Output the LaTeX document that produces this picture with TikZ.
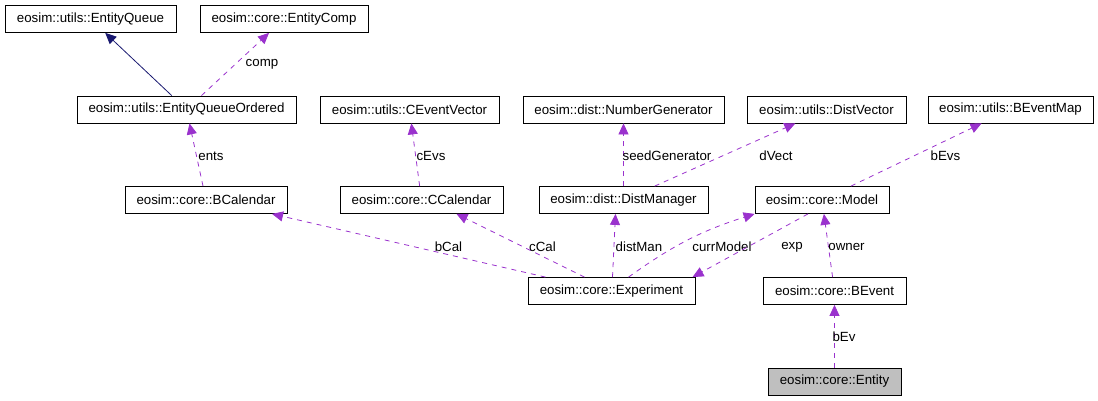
\documentclass[tikz,border=0pt]{standalone}
\usepackage{fontspec}
\setmainfont{Liberation Sans}
\usetikzlibrary{arrows.meta}
\definecolor{edgepurple}{RGB}{154,50,205}
\definecolor{inhblue}{RGB}{25,25,112}
\newcommand{\dxfont}{\fontsize{13.3}{16}\selectfont}

\begin{document}
\begin{tikzpicture}[x=1pt, y=-1pt, line width=0.8pt,
  cls/.style={draw, minimum height=27pt, inner sep=0pt, font=\dxfont},
  dep/.style={edgepurple, dash pattern=on 5pt off 5pt, -{Triangle[length=11pt,width=10pt]}},
  inh/.style={inhblue, -{Triangle[length=11pt,width=10pt]}},
  lbl/.style={font=\dxfont, inner sep=0pt, text=black}]
  \useasboundingbox (0,0) rectangle (1098,400);
  \node[cls, minimum width=171pt] (equeue) at (90.5,19) {eosim::utils::EntityQueue};
  \node[cls, minimum width=168pt] (ecomp) at (284,19) {eosim::core::EntityComp};
  \node[cls, minimum width=219pt] (eqord) at (186.5,109.5) {eosim::utils::EntityQueueOrdered};
  \node[cls, minimum width=179pt] (cevvec) at (409.5,109.5) {eosim::utils::CEventVector};
  \node[cls, minimum width=201pt] (numgen) at (623.5,109.5) {eosim::dist::NumberGenerator};
  \node[cls, minimum width=159pt] (dvec) at (826.5,109.5) {eosim::utils::DistVector};
  \node[cls, minimum width=165pt] (bevmap) at (1010.5,109.5) {eosim::utils::BEventMap};
  \node[cls, minimum width=162pt] (bcal) at (206,200) {eosim::core::BCalendar};
  \node[cls, minimum width=163pt] (ccal) at (421.5,200) {eosim::core::CCalendar};
  \node[cls, minimum width=169pt] (dman) at (623.5,200) {eosim::dist::DistManager};
  \node[cls, minimum width=134pt] (model) at (822,200) {eosim::core::Model};
  \node[cls, minimum width=167pt] (exper) at (611.5,291) {eosim::core::Experiment};
  \node[cls, minimum width=143pt] (bevent) at (834.5,291) {eosim::core::BEvent};
  \node[cls, minimum width=133pt, fill=black!25] (entity) at (834.5,381.5) {eosim::core::Entity};
  \draw[inh] (eqord) -- (equeue);
  \draw[dep] (eqord) -- (ecomp) node[lbl] at (262,64) {comp};
  \draw[dep] (bcal) -- (eqord) node[lbl] at (211,156) {ents};
  \draw[dep] (ccal) -- (cevvec) node[lbl] at (431,156) {cEvs};
  \draw[dep] (dman) -- (numgen) node[lbl] at (667,156) {seedGenerator};
  \draw[dep] (dman) -- (dvec) node[lbl] at (776,156) {dVect};
  \draw[dep] (model) -- (bevmap) node[lbl] at (945.5,156) {bEvs};
  \draw[dep] ([xshift=-66pt]exper.north) -- ([xshift=66pt]bcal.south) node[lbl] at (448.5,247) {bCal};
  \draw[dep] ([xshift=-27pt]exper.north) -- ([xshift=35pt]ccal.south) node[lbl] at (542.5,247) {cCal};
  \draw[dep] ([xshift=1pt]exper.north) -- ([xshift=-8pt]dman.south) node[lbl] at (639,247) {distMan};
  \draw[dep] ([xshift=17pt]exper.north) to[bend left=9] (model.south west) node[lbl] at (722,247) {currModel};
  \draw[dep] ([xshift=-14pt]model.south) -- ([xshift=81pt]exper.north) node[lbl] at (792,247) {exp};
  \draw[dep] (bevent) -- (model) node[lbl] at (846.5,247) {owner};
  \draw[dep] (entity) -- (bevent) node[lbl] at (844,337) {bEv};
\end{tikzpicture}
\end{document}
